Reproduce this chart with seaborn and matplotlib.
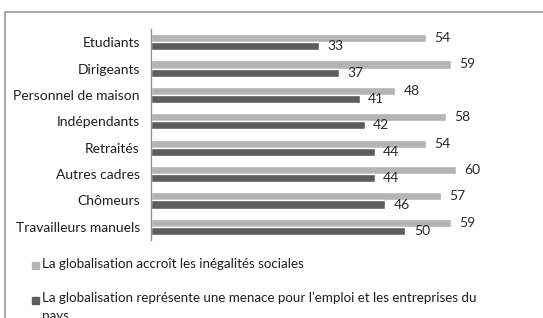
import numpy as np
import pandas as pd
import matplotlib
matplotlib.use("Agg")
import matplotlib.pyplot as plt
import seaborn as sns
from matplotlib.patches import Rectangle

categories = ["Etudiants", "Dirigeants", "Personnel de maison", "Indépendants",
              "Retraités", "Autres cadres", "Chômeurs", "Travailleurs manuels"]
series_names = ["La globalisation accroît les inégalités sociales",
                "La globalisation représente une menace pour l'emploi et les entreprises du\npays"]
inegalites = [54, 59, 48, 58, 54, 60, 57, 59]
menace = [33, 37, 41, 42, 44, 44, 46, 50]
colors_ = ["#b4b4b4", "#5d5d5d"]

df = pd.DataFrame({
    "cat": categories * 2,
    "val": inegalites + menace,
    "serie": [series_names[0]] * len(categories) + [series_names[1]] * len(categories),
})

sns.set_theme(style="white")
plt.rcParams["font.family"] = ["Lato", "DejaVu Sans"]

fig = plt.figure(figsize=(5.43, 3.18), dpi=100)
ax = fig.add_axes([0.278, 0.245, 0.656, 0.664])

sns.barplot(data=df, y="cat", x="val", hue="serie", hue_order=series_names,
            order=categories, palette=colors_, orient="h", width=0.62,
            saturation=1, ax=ax, legend=False)

for cont in ax.containers:
    ax.bar_label(cont, padding=6, fontsize=10, color="#2a2a2a")

ax.set_xlim(0, 70)
ax.set_xlabel("")
ax.set_ylabel("")
ax.set_xticks([])
for s in ["top", "right", "bottom"]:
    ax.spines[s].set_visible(False)
ax.spines["left"].set_color("#8c8c8c")
ax.spines["left"].set_linewidth(0.9)
ax.tick_params(axis="y", which="major", length=0, pad=8, labelsize=10, labelcolor="#1e1e1e")
ax.set_yticks(np.arange(len(categories) + 1) - 0.5, minor=True)
ax.tick_params(axis="y", which="minor", length=4, color="#8c8c8c", width=0.9, direction="out")
ax.set_ylim(len(categories) - 0.5, -0.5)

# outer chart frame
fig.patches.append(Rectangle((5 / 543, -0.1), 1.2, 1.1 - 11.5 / 318, transform=fig.transFigure,
                             fill=False, edgecolor="#9a9a9a", linewidth=1.2))

# legend
leg_y = [1 - 265 / 318, 1 - 300 / 318]
for name, c, yy in zip(series_names, colors_, leg_y):
    fig.patches.append(Rectangle((32 / 543, yy - 3.5 / 318), 7 / 543, 7 / 318,
                                 transform=fig.transFigure, color=c))
    fig.text(42 / 543, yy + 7.5 / 318, name, fontsize=9.6, color="#1e1e1e", va="top",
             linespacing=1.5, transform=fig.transFigure)

fig.savefig("out.png", dpi=100)
